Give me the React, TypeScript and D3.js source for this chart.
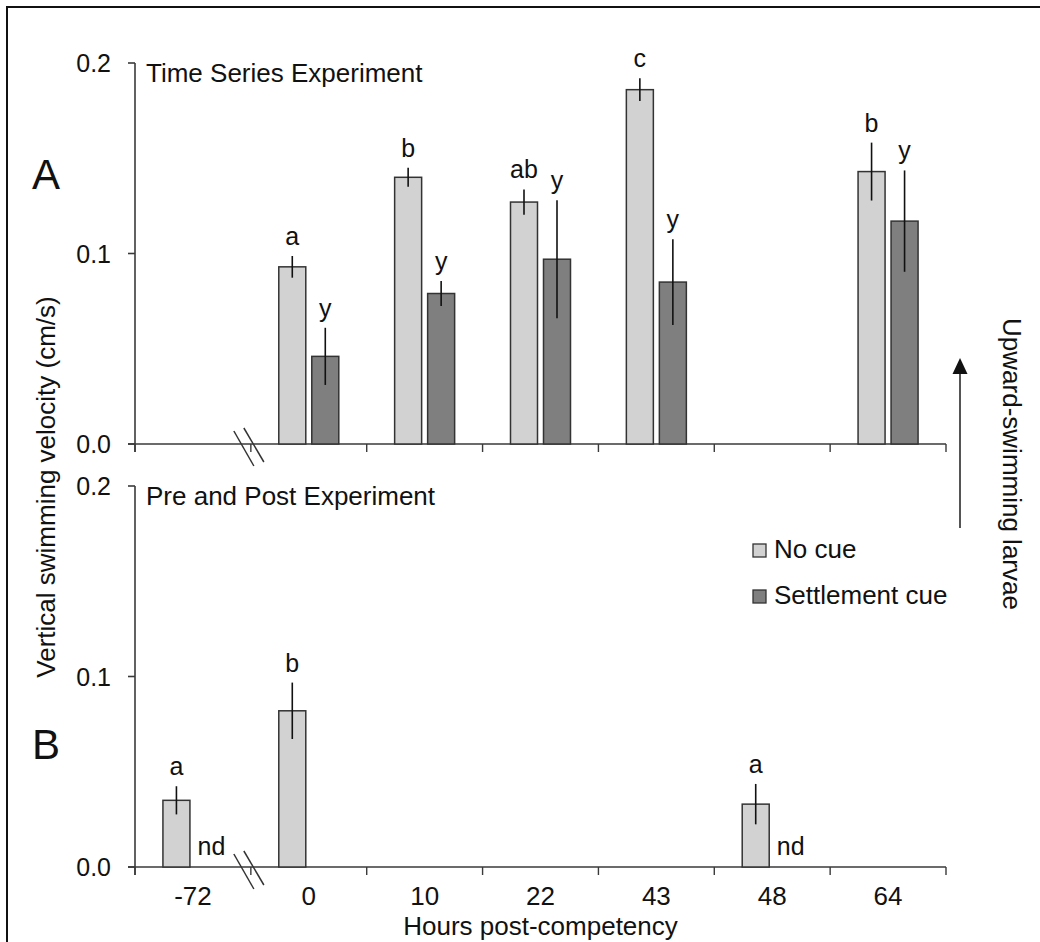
import React from "react";
import * as d3 from "d3";

// hours post-competency (one band each)
const categories = ["-72", "0", "10", "22", "43", "48", "64"];
const series = ["No cue", "Settlement cue"];

// A: time series experiment
const noCueA = [null, 0.093, 0.140, 0.127, 0.186, null, 0.143];
const noCueAErr = [null, 0.0057, 0.005, 0.0066, 0.006, null, 0.0152];
const cueA = [null, 0.046, 0.079, 0.097, 0.085, null, 0.117];
const cueAErr = [null, 0.015, 0.0065, 0.031, 0.0225, null, 0.0266];
const lettersNoCueA = ["", "a", "b", "ab", "c", "", "b"];
const lettersCueA = ["", "y", "y", "y", "y", "", "y"];

// B: pre and post experiment
const noCueB = [0.035, 0.082, null, null, null, 0.033, null];
const noCueBErr = [0.0074, 0.0148, null, null, null, 0.0106, null];
const cueB = [null, null, null, null, null, null, null];
const cueBErr = [null, null, null, null, null, null, null];
const lettersNoCueB = ["a", "b", "", "", "", "a", ""];
const lettersCueB = ["nd", "", "", "", "", "nd", ""];

const yTicks = [0, 0.1, 0.2];

const FONT = "'Liberation Sans', Arial, sans-serif";
const LIGHT = "#d2d2d2";
const DARK = "#7f7f7f";
const AXIS = "#3a3a3a";

const x = d3.scaleBand<string>().domain(categories).range([135, 946]).padding(0);
const bw = x.bandwidth();
const sub = d3.scaleBand<string>().domain(series).range([bw / 2 - 30, bw / 2 + 30]).paddingInner(6 / 33);
const fmt = d3.format(".1f");

interface PanelProps {
    top: number;
    bottom: number;
    title: string;
    label: string;
    labelY: number;
    noCue: (number | null)[];
    noCueErr: (number | null)[];
    cue: (number | null)[];
    cueErr: (number | null)[];
    lettersNoCue: string[];
    lettersCue: string[];
    showXLabels: boolean;
}

function Panel(p: PanelProps) {
    const y = d3.scaleLinear().domain([0, 0.2]).range([p.bottom, p.top]);
    const base = y(0);
    const bx = x("0")!;

    const bars = (vals: (number | null)[], errs: (number | null)[], letters: string[], s: string, fill: string) =>
        categories.map((c, i) => {
            const cx = x(c)! + sub(s)! + sub.bandwidth() / 2;
            const v = vals[i];
            const e = errs[i];
            const letter = letters[i];
            if (v == null) {
                // no data: "nd" sits on the baseline
                if (!letter) return null;
                return (
                    <text key={c} x={cx + 2} y={base - 12} textAnchor="middle" fontSize={25}>{letter}</text>
                );
            }
            const errTop = y(v + (e || 0));
            return (
                <g key={c}>
                    <rect x={x(c)! + sub(s)!} y={y(v)} width={sub.bandwidth()} height={base - y(v)}
                        fill={fill} stroke="#333" strokeWidth={1.5} />
                    {e != null && (
                        <line x1={cx} x2={cx} y1={y(v - e)} y2={errTop} stroke="#111" strokeWidth={1.6} />
                    )}
                    {letter && (
                        <text x={cx} y={errTop - 11} textAnchor="middle" fontSize={25}>{letter}</text>
                    )}
                </g>
            );
        });

    const tickXs = categories.map(c => x(c)!).concat([x.range()[1]]);

    return (
        <g>
            {/* y axis */}
            <line x1={135} x2={135} y1={y(0.2)} y2={base + 8} stroke={AXIS} strokeWidth={1.6} />
            {yTicks.map(t => (
                <g key={t}>
                    <line x1={128} x2={135} y1={y(t)} y2={y(t)} stroke={AXIS} strokeWidth={1.6} />
                    <text x={111} y={y(t)} dy="0.36em" textAnchor="end" fontSize={25}>{fmt(t)}</text>
                </g>
            ))}
            {/* x axis */}
            <line x1={128} x2={x.range()[1]} y1={base} y2={base} stroke={AXIS} strokeWidth={1.6} />
            {tickXs.map((tx, i) => (
                <line key={i} x1={tx} x2={tx} y1={base} y2={base + 8} stroke={AXIS} strokeWidth={1.4} />
            ))}
            {/* axis break */}
            <line x1={bx - 17} y1={base - 13} x2={bx + 3} y2={base + 22} stroke="#333" strokeWidth={1.5} />
            <line x1={bx - 7} y1={base - 16} x2={bx + 13} y2={base + 18} stroke="#333" strokeWidth={1.5} />
            {p.showXLabels && categories.map(c => (
                <text key={c} x={x(c)! + bw / 2} y={base + 38} textAnchor="middle" fontSize={26}>{c}</text>
            ))}

            {bars(p.noCue, p.noCueErr, p.lettersNoCue, series[0], LIGHT)}
            {bars(p.cue, p.cueErr, p.lettersCue, series[1], DARK)}

            <text x={146} y={p.top + 19} fontSize={26}>{p.title}</text>
            <text x={32} y={p.labelY} fontSize={42}>{p.label}</text>
        </g>
    );
}

export default function App() {
    return (
        <svg width={1040} height={942} style={{ position: "absolute", left: 0, top: 0, background: "#fff" }}
            fontFamily={FONT} fill="#111">
            <rect x={7} y={7} width={1100} height={1000} fill="#fff" stroke="#111" strokeWidth={2} />

            <Panel top={63} bottom={444} title="Time Series Experiment" label="A" labelY={189}
                noCue={noCueA} noCueErr={noCueAErr} cue={cueA} cueErr={cueAErr}
                lettersNoCue={lettersNoCueA} lettersCue={lettersCueA} showXLabels={false} />
            <Panel top={486} bottom={867} title="Pre and Post Experiment" label="B" labelY={759}
                noCue={noCueB} noCueErr={noCueBErr} cue={cueB} cueErr={cueBErr}
                lettersNoCue={lettersNoCueB} lettersCue={lettersCueB} showXLabels={true} />

            <text x={540.5} y={935} textAnchor="middle" fontSize={26}>Hours post-competency</text>
            <text transform="translate(55,487) rotate(-90)" textAnchor="middle" fontSize={26}>
                Vertical swimming velocity (cm/s)
            </text>
            <text transform="translate(1003,464) rotate(90)" textAnchor="middle" fontSize={26}>
                Upward-swimming larvae
            </text>

            {/* arrow */}
            <line x1={960} x2={960} y1={528} y2={370} stroke="#555" strokeWidth={2} />
            <path d="M952.5,374 L960,358 L967.5,374 Z" fill="#111" />

            {/* legend */}
            {series.map((s, i) => (
                <g key={s} transform={`translate(753,${544 + i * 46})`}>
                    <rect x={0} y={0} width={13} height={13} fill={i === 0 ? LIGHT : DARK} stroke="#333" strokeWidth={1.3} />
                    <text x={21} y={14} fontSize={26}>{s}</text>
                </g>
            ))}
        </svg>
    );
}
